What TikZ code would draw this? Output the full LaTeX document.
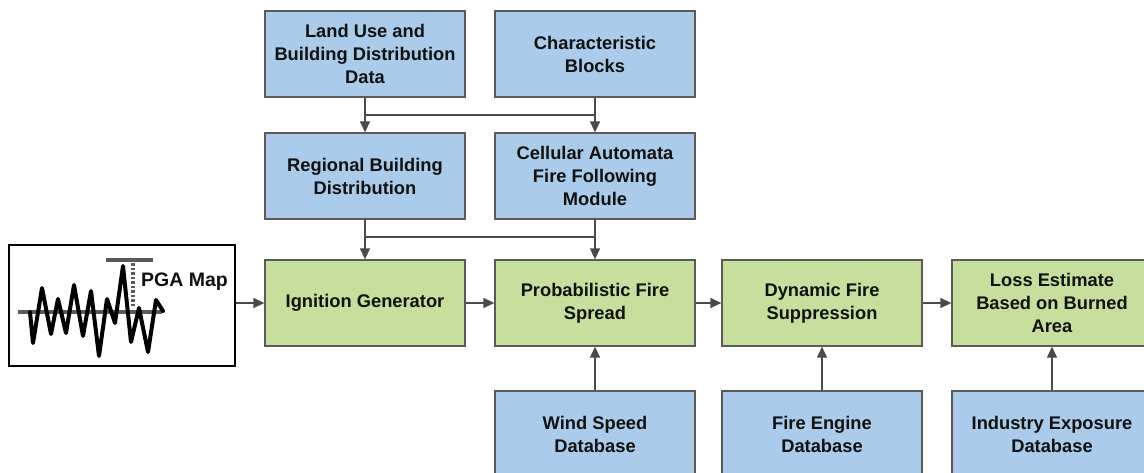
\documentclass[tikz,border=0pt]{standalone}
\usepackage{fontspec}
\setmainfont{Liberation Sans}
\usetikzlibrary{arrows.meta}
\definecolor{bluef}{HTML}{AACBEA}
\definecolor{greenf}{HTML}{C6DF9D}
\definecolor{edgec}{HTML}{5A5A5A}
\definecolor{linec}{HTML}{4A4A4A}
\definecolor{txt}{HTML}{111111}
\tikzset{
  box/.style={draw=edgec, line width=1.3pt, minimum width=200pt, minimum height=86pt,
    inner sep=0pt, align=center, text=txt,
    font=\fontsize{18.3}{23}\selectfont\bfseries},
  bluebox/.style={box, fill=bluef},
  greenbox/.style={box, fill=greenf},
  arr/.style={draw=linec, line width=1.3pt, -{Triangle[length=11pt,width=10pt]}},
  conn/.style={draw=linec, line width=1.3pt},
}
\begin{document}
\begin{tikzpicture}[x=1pt,y=-1pt]
\useasboundingbox (0,0) rectangle (1144,472);
\clip (0,0) rectangle (1144,472);
% row 1
\node[bluebox] (land) at (365,54) {Land Use and\\Building Distribution\\Data};
\node[bluebox] (char) at (595,54) {Characteristic\\Blocks};
% row 2
\node[bluebox] (reg) at (365,176) {Regional Building\\Distribution};
\node[bluebox] (ca) at (595,176) {Cellular Automata\\Fire Following\\Module};
% row 3
\node[draw=black, line width=1.2pt, fill=white, minimum width=226pt, minimum height=121pt, inner sep=0pt] (pga) at (122,305.5) {};
\node[greenbox] (ign) at (365,303) {Ignition Generator};
\node[greenbox] (prob) at (595,303) {Probabilistic Fire\\Spread};
\node[greenbox] (dyn) at (822,303) {Dynamic Fire\\Suppression};
\node[greenbox] (loss) at (1052,303) {Loss Estimate\\Based on Burned\\Area};
% row 4
\node[bluebox] (wind) at (595,434) {Wind Speed\\Database};
\node[bluebox] (eng) at (822,434) {Fire Engine\\Database};
\node[bluebox] (ind) at (1052,434) {Industry Exposure\\Database};
% PGA map drawing
\draw[line width=3.2pt, draw=edgec] (18,312) -- (162,312);
\draw[line width=3.5pt, draw=edgec] (106,260) -- (153,260);
\draw[line width=3.2pt, draw=edgec, dash pattern=on 2.5pt off 2pt] (133,263) -- (133,308);
\draw[line width=4pt, black, line join=round, line cap=round]
  (30,312) -- (33,343) -- (42,288) -- (51,334) -- (58,299) -- (66,333) -- (74,285)
  -- (83,336) -- (91,291) -- (99,356) -- (107,299) -- (115,323) -- (123,266)
  -- (131,342) -- (139,308) -- (148,352) -- (156,300) -- (163,311);
\node[font=\fontsize{19.5}{21}\selectfont\bfseries, text=txt, anchor=west, inner sep=0pt] (pgalbl) at (141,282) {PGA Map};
% connectors top
\coordinate (j1) at (365,115);
\coordinate (j2) at (595,115);
\draw[arr] (land.south) -- (reg.north);
\draw[arr] (char.south) -- (ca.north);
\draw[conn] (land.south |- j1) -- (char.south |- j2);
\coordinate (k1) at (365,237);
\coordinate (k2) at (595,237);
\draw[arr] (reg.south) -- (ign.north);
\draw[arr] (ca.south) -- (prob.north);
\draw[conn] (reg.south |- k1) -- (ca.south |- k2);
% horizontal chain
\draw[arr] (pga.east |- ign.west) -- (ign.west);
\draw[arr] (ign.east) -- (prob.west);
\draw[arr] (prob.east) -- (dyn.west);
\draw[arr] (dyn.east) -- (loss.west);
% bottom up arrows
\draw[arr] (wind.north) -- (prob.south);
\draw[arr] (eng.north) -- (dyn.south);
\draw[arr] (ind.north) -- (loss.south);
\end{tikzpicture}
\end{document}
